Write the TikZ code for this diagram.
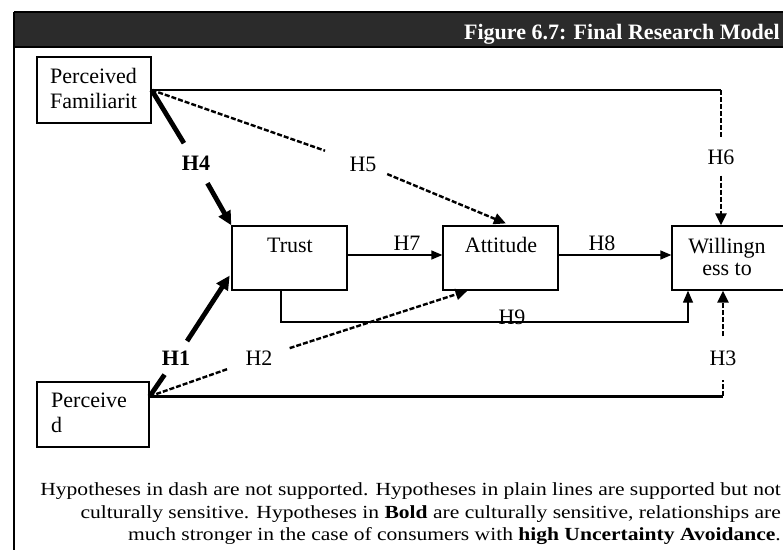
\documentclass[tikz,border=0pt]{standalone}
\usepackage{fontspec}
\setmainfont{Liberation Serif}
\usetikzlibrary{arrows.meta,calc}

\definecolor{barfill}{HTML}{2B2B2B}

\newcommand{\widenote}[1]{\scalebox{1.165}[1]{#1}}

\tikzset{
  modelbox/.style={draw, line width=1.3pt, inner sep=0pt,
    minimum width=115pt, minimum height=64pt},
  boxtxt/.style={font=\fontsize{22}{26}\selectfont, inner sep=0pt},
  hyp/.style={font=\fontsize{22}{26}\selectfont, inner sep=0pt},
  hypbold/.style={font=\fontsize{22}{26}\selectfont\bfseries, inner sep=0pt},
  gap/.style={circle, inner sep=0pt, minimum size=#1},
  plainlink/.style={line width=1.3pt},
  plaintip/.style={-{Triangle[length=11pt,width=9pt]}},
  boldlink/.style={line width=4.8pt},
  boldtip/.style={-{Triangle[length=14pt,width=13pt]}},
  strong/.style={line width=2.4pt},
  dashlink/.style={line width=2.4pt, dash pattern=on 5pt off 2pt},
  dashtip/.style={-{Triangle[length=12pt,width=11pt]}},
  note/.style={font=\fontsize{18.5}{22}\selectfont, inner sep=0pt, anchor=base east},
}

\begin{document}
\begin{tikzpicture}[x=1pt,y=-1pt]
\useasboundingbox (0,0) rectangle (783,549);
\clip (0,0) rectangle (783,549);

% heading bar and frame
\fill[barfill] (14,12) rectangle (795,47);
\draw[line width=1.5pt] (14,12) -- (795,12);
\draw[line width=1.5pt] (14,47) -- (795,47);
\draw[line width=1.5pt] (14,12) -- (14,560);
\node[font=\fontsize{22}{26}\selectfont\bfseries, text=white, inner sep=0pt,
      anchor=base east] (title) at (780,39) {Figure 6.7: Final Research Model};

% constructs
\node[modelbox, minimum width=114pt, minimum height=66pt] (pf) at (94,90) {};
\node[modelbox] (trust) at (289.5,258) {};
\node[modelbox] (att) at (500.5,258) {};
\node[modelbox] (will) at (729.5,258) {};
\node[modelbox, minimum width=112pt, minimum height=65pt] (pd) at (93,414.5) {};

\node[boxtxt, anchor=base west] (pf1) at (50,83) {Perceived};
\node[boxtxt, anchor=base west] (pf2) at (50,108) {Familiarit};
\node[boxtxt, anchor=base] (trusttxt) at (290,252) {Trust};
\node[boxtxt, anchor=base] (atttxt) at (501,252) {Attitude};
\node[boxtxt, anchor=base] (will1) at (727,253) {Willingn};
\node[boxtxt, anchor=base] (will2) at (727,275) {ess to};
\node[boxtxt, anchor=base west] (pd1) at (51,407) {Perceive};
\node[boxtxt, anchor=base west] (pd2) at (51,432) {d};

% hypothesis labels
\node[hypbold, gap=46pt] (h4) at (196,163) {H4};
\node[hyp, gap=52pt] (h5) at (363,164) {H5};
\node[hyp, inner xsep=2pt, inner ysep=11pt] (h6) at (721,157) {H6};
\node[hyp, anchor=base] (h7) at (407,250) {H7};
\node[hyp, anchor=base] (h8) at (602,250) {H8};
\node[hyp, anchor=base] (h9) at (512,324) {H9};
\node[hypbold, gap=40pt] (h1) at (176,358) {H1};
\node[hyp, gap=64pt] (h2) at (259,358) {H2};
\node[hyp, inner xsep=2pt, inner ysep=14pt] (h3) at (723,358) {H3};

% connection points
\coordinate (pfout) at (pf.east);
\coordinate (pdout) at ([yshift=-15pt]pd.north east);
\coordinate (c6) at (h6 |- pfout);
\coordinate (c3) at (h3 |- pdout);
\coordinate (c9) at (688,322);

% familiarity paths
\draw[strong] (pfout) -- (c6);
\draw[dashlink] (c6) -- (h6);
\draw[dashlink, dashtip] (h6) -- (h6 |- will.north);
\draw[boldlink] (pfout) -- (h4);
\draw[boldlink, boldtip] (h4) -- (trust.north west);
\draw[dashlink, shorten >=14pt] (pfout) -- (h5);
\draw[dashlink, dashtip, shorten >=5pt] (h5) -- ([xshift=10pt]att.north);

% main chain
\draw[plainlink, plaintip] ([yshift=3pt]trust.east) -- ([yshift=3pt]att.west);
\draw[plainlink, plaintip] ([yshift=3pt]att.east) -- ([yshift=3pt]will.west);
\draw[plainlink, -{Triangle[length=12pt,width=10pt]}]
  ([xshift=-8.5pt]trust.south) |- (c9) -- (c9 |- will.south);

% perceived ... paths
\draw[boldlink] (pdout) -- (h1);
\draw[boldlink, boldtip, shorten >=3pt] (h1) -- ([yshift=-15pt]trust.west);
\draw[dashlink] (pdout) -- (h2);
\draw[dashlink, dashtip] (h2) -- ([xshift=-33pt]att.south);
\draw[strong] (pdout) -- (c3);
\draw[dashlink] (c3) -- (h3);
\draw[dashlink, dashtip] (h3) -- (h3 |- will.south);

% explanatory note
\node[note] (n1) at (781,495) {\widenote{Hypotheses in dash are not supported. Hypotheses in plain lines are supported but not}};
\node[note] (n2) at (781,518) {\widenote{culturally sensitive. Hypotheses in \textbf{Bold} are culturally sensitive, relationships are}};
\node[note] (n3) at (781,540) {\widenote{much stronger in the case of consumers with \textbf{high Uncertainty Avoidance}.}};
\end{tikzpicture}
\end{document}
